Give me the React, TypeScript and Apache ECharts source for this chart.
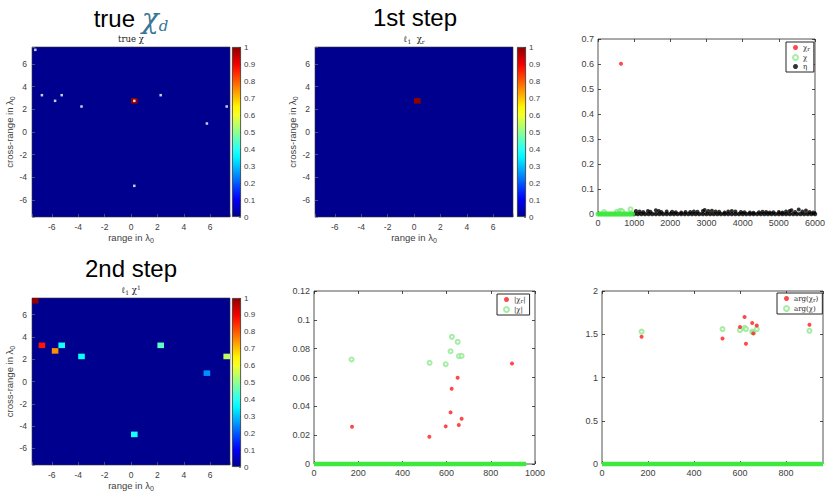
import React, { useEffect, useRef } from 'react';
import * as echarts from 'echarts';

// ---------------- data ----------------
// heatmap cells (centre x, centre y, value) on the 0.5-lambda grid
const trueCellX = [0.25];
const trueCellY = [2.75];
const trueCellVal = [1];
// true target positions (white markers)
const trueTargetX = [-7.25, -6.75, -5.75, -5.25, -3.75, 0.25, 2.25, 7.25, 5.75, 0.25];
const trueTargetY = [7.25, 3.25, 2.75, 3.25, 2.25, 2.75, 3.25, 2.25, 0.75, -4.75];

const step1CellX = [0.25];
const step1CellY = [2.75];
const step1CellVal = [1];

const step2CellX = [-7.25, -6.75, -5.75, -5.25, -3.75, 2.25, 7.25, 5.75, 0.25];
const step2CellY = [7.25, 3.25, 2.75, 3.25, 2.25, 3.25, 2.25, 0.75, -4.75];
const step2CellVal = [1.0, 0.87, 0.75, 0.38, 0.37, 0.45, 0.55, 0.25, 0.38];

// top-right panel
const p3RedX = [636];
const p3RedY = [0.601];
const p3GreenX = [170, 523, 596, 618, 624, 650, 668, 900];
const p3GreenY = [0.008, 0.009, 0.01, 0.012, 0.013, 0.012, 0.01, 0.019];
// markers lying on the zero line (sampled along the dense runs)
const p3GreenZeroX = [0, 40, 80, 120, 160, 200, 240, 280, 320, 360, 400, 440, 480, 520, 560, 600, 640, 680, 720, 760, 800, 840, 880, 920, 960];
const p3BlackZeroX = [1000, 1100, 1200, 1300, 1400, 1500, 1600, 1700, 1800, 1900, 2000, 2100, 2200, 2300, 2400, 2500, 2600, 2700, 2800, 2900, 3000, 3100, 3200, 3300, 3400, 3500, 3600, 3700, 3800, 3900, 4000, 4100, 4200, 4300, 4400, 4500, 4600, 4700, 4800, 4900, 5000, 5100, 5200, 5300, 5400, 5500, 5600, 5700, 5800, 5900, 6000];
const p3BlackX = [1050, 1150, 1250, 1380, 1450, 1600, 1680, 1750, 1900, 2050, 2150, 2300, 2420, 2550, 2650, 2750, 2900, 2950, 3050, 3150, 3250, 3350, 3500, 3600, 3700, 3800, 3950, 4050, 4200, 4300, 4450, 4550, 4650, 4750, 4850, 5000, 5100, 5200, 5300, 5350, 5450, 5550, 5650, 5750, 5850, 5950];
const p3BlackY = [0.012, 0.01, 0.008, 0.012, 0.009, 0.015, 0.012, 0.008, 0.01, 0.009, 0.007, 0.006, 0.008, 0.008, 0.01, 0.009, 0.012, 0.016, 0.012, 0.013, 0.01, 0.009, 0.006, 0.01, 0.012, 0.01, 0.008, 0.007, 0.006, 0.005, 0.007, 0.009, 0.008, 0.006, 0.007, 0.008, 0.006, 0.01, 0.012, 0.015, 0.008, 0.018, 0.01, 0.014, 0.008, 0.006];

// bottom-middle panel
const p5RedX = [172, 522, 596, 618, 623, 650, 655, 668, 896];
const p5RedY = [0.0258, 0.0189, 0.0261, 0.0358, 0.0522, 0.0598, 0.027, 0.0314, 0.0697];
const p5GreenX = [170, 523, 596, 618, 624, 650, 656, 668];
const p5GreenY = [0.0725, 0.0702, 0.0692, 0.0782, 0.0882, 0.0847, 0.0748, 0.075];
const p5GreenBand = [0, 960];

// bottom-right panel
const p6RedX = [172, 524, 600, 620, 626, 653, 658, 673, 902];
const p6RedY = [1.47, 1.45, 1.585, 1.7, 1.39, 1.63, 1.51, 1.6, 1.61];
const p6GreenX = [172, 524, 600, 620, 626, 653, 658, 673, 902];
const p6GreenY = [1.53, 1.56, 1.547, 1.574, 1.56, 1.53, 1.52, 1.56, 1.54];
const p6GreenBand = [0, 961];

// ---------------- styling helpers ----------------
const SANS = 'Liberation Sans, Arial, sans-serif';
const SERIF = 'DejaVu Serif, serif';
const LABEL = '#404040';
const RED = '#ff1a1a';
const GREEN = '#8fe88f';
const BAND_GREEN = '#3ee83e';

function jet(v: number) {
  const c = (t: number) => Math.max(0, Math.min(1, 1.5625 - Math.abs(4 * v - t)));
  const r = Math.round(c(3) * 255), g = Math.round(c(2) * 255), b = Math.round(c(1) * 255);
  return `rgb(${r},${g},${b})`;
}

const pairs = (xs: number[], ys: number[]) => xs.map((x, i) => [x, ys[i]]);
const zeros = (xs: number[]) => xs.map((x) => [x, 0]);
const triples = (xs: number[], ys: number[], vs: number[]) => xs.map((x, i) => [x, ys[i], vs[i]]);

const nameRich = {
  a: { fontSize: 9.5, color: LABEL, fontFamily: SANS, lineHeight: 13 },
  s: { fontSize: 7, color: LABEL, fontFamily: SANS, verticalAlign: 'bottom', lineHeight: 7 },
};

function buildOption() {
  const grid: any[] = [];
  const xAxis: any[] = [];
  const yAxis: any[] = [];
  const series: any[] = [];

  const colorStops: any[] = [];
  for (let i = 0; i <= 20; i++) {
    const off = i / 20;
    colorStops.push({ offset: off, color: jet(1 - off) });
  }

  function heatPanel(rect: any, cb: any, cells: number[][], dots?: number[][]) {
    const gi = grid.push({ ...rect, show: true, backgroundColor: jet(0), borderColor: '#3a3a3a', borderWidth: 0.6 }) - 1;
    const tick = { show: true, inside: true, length: 3, lineStyle: { color: '#7a7a7a', width: 0.6 } };
    const lab = {
      fontSize: 8.5, color: LABEL, fontFamily: SANS, margin: 5,
      formatter: (v: number) => (Math.abs(v % 2) === 0 ? String(v) : ''),
    };
    const xi = xAxis.push({
      type: 'value', gridIndex: gi, min: -7.5, max: 7.5, splitNumber: 7,
      axisLine: { show: false, onZero: false }, axisTick: tick, splitLine: { show: false }, axisLabel: lab,
      name: '{a|range in λ}{s|0}', nameLocation: 'middle', nameGap: 14,
      nameTextStyle: { rich: nameRich },
    }) - 1;
    const yi = yAxis.push({
      type: 'value', gridIndex: gi, min: -7.5, max: 7.5, splitNumber: 7,
      axisLine: { show: false, onZero: false }, axisTick: tick, splitLine: { show: false }, axisLabel: lab,
      name: '{a|cross-range in λ}{s|0}', nameLocation: 'middle', nameGap: 13,
      nameTextStyle: { rich: nameRich },
    }) - 1;
    series.push({
      type: 'custom', xAxisIndex: xi, yAxisIndex: yi, silent: true, data: cells,
      renderItem: (params: any, api: any) => {
        const x = api.value(0), y = api.value(1), v = api.value(2);
        const p0 = api.coord([x - 0.25, y + 0.25]);
        const p1 = api.coord([x + 0.25, y - 0.25]);
        return {
          type: 'rect',
          shape: { x: p0[0], y: p0[1], width: p1[0] - p0[0], height: p1[1] - p0[1] },
          style: { fill: jet(v) },
        };
      },
    });
    if (dots) {
      series.push({
        type: 'scatter', xAxisIndex: xi, yAxisIndex: yi, silent: true, data: dots,
        symbol: 'rect', symbolSize: 2.5, itemStyle: { color: '#ffffff' }, z: 5,
      });
    }
    // colour bar
    const cgi = grid.push({ ...cb, show: false }) - 1;
    const cxi = xAxis.push({ type: 'category', gridIndex: cgi, data: [''], show: false }) - 1;
    const cyi = yAxis.push({
      type: 'value', gridIndex: cgi, min: 0, max: 1, interval: 0.1, position: 'right',
      axisLine: { show: false, onZero: false }, splitLine: { show: false },
      axisTick: { show: true, inside: true, length: 2, lineStyle: { color: '#333', width: 0.6 } },
      axisLabel: { fontSize: 8, color: LABEL, fontFamily: SANS, margin: 3 },
    }) - 1;
    series.push({
      type: 'bar', xAxisIndex: cxi, yAxisIndex: cyi, data: [1], barWidth: '100%', silent: true,
      itemStyle: {
        color: new echarts.graphic.LinearGradient(0, 0, 0, 1, colorStops),
        borderColor: '#333', borderWidth: 0.8,
      },
    });
  }

  function scatterPanel(rect: any, xMax: number, xInt: number, yMax: number, yInt: number, hideMax: boolean) {
    const gi = grid.push({ ...rect, show: true, backgroundColor: '#fff', borderColor: '#262626', borderWidth: 0.8 }) - 1;
    const tick = { show: true, inside: true, length: 3, lineStyle: { color: '#262626', width: 0.8 } };
    const lab = {
      fontSize: 9, color: LABEL, fontFamily: SANS, margin: 4, showMaxLabel: !hideMax,
      formatter: (v: number) => String(v),
    };
    const xi = xAxis.push({
      type: 'value', gridIndex: gi, min: 0, max: xMax, interval: xInt, position: 'bottom',
      axisLine: { show: false, onZero: false }, axisTick: tick, splitLine: { show: false }, axisLabel: lab,
    }) - 1;
    xAxis.push({
      type: 'value', gridIndex: gi, min: 0, max: xMax, interval: xInt, position: 'top',
      axisLine: { show: false, onZero: false }, axisTick: tick, splitLine: { show: false }, axisLabel: { show: false },
    });
    const yi = yAxis.push({
      type: 'value', gridIndex: gi, min: 0, max: yMax, interval: yInt, position: 'left',
      axisLine: { show: false, onZero: false }, axisTick: tick, splitLine: { show: false },
      axisLabel: { fontSize: 9, color: LABEL, fontFamily: SANS, margin: 4 },
    }) - 1;
    yAxis.push({
      type: 'value', gridIndex: gi, min: 0, max: yMax, interval: yInt, position: 'right',
      axisLine: { show: false, onZero: false }, axisTick: tick, splitLine: { show: false }, axisLabel: { show: false },
    });
    return { xi, yi };
  }

  // dense runs of markers on the zero line, drawn as bands between x values
  const bands = (name: string, segs: number[][], colors: string[], ax: any, h: number) => ({
    name, type: 'custom', xAxisIndex: ax.xi, yAxisIndex: ax.yi, silent: true, clip: false, z: 3,
    data: segs.map((s, i) => [s[0], 0, s[1], i]),
    renderItem: (params: any, api: any) => {
      const a = api.coord([api.value(0), api.value(1)]);
      const b = api.coord([api.value(2), api.value(1)]);
      return {
        type: 'rect',
        shape: { x: a[0], y: a[1] - h / 2, width: b[0] - a[0], height: h },
        style: { fill: colors[api.value(3)] },
      };
    },
  });
  const dotsS = (name: string, data: number[][], color: string, ax: any, z = 4, size = 4) => ({
    name, type: 'scatter', xAxisIndex: ax.xi, yAxisIndex: ax.yi, silent: true, clip: false,
    data, symbol: 'circle', symbolSize: size, itemStyle: { color }, z,
  });
  const ringsS = (name: string, data: number[][], ax: any, z = 4) => ({
    name, type: 'scatter', xAxisIndex: ax.xi, yAxisIndex: ax.yi, silent: true, clip: false,
    data, symbol: 'emptyCircle', symbolSize: 4, itemStyle: { color: GREEN, borderWidth: 0.8 }, z,
  });

  // panel 1: true chi
  heatPanel({ left: 32, top: 47, width: 198, height: 170 }, { left: 232, top: 47, width: 9, height: 170 },
    triples(trueCellX, trueCellY, trueCellVal), pairs(trueTargetX, trueTargetY));
  // panel 2: 1st step
  heatPanel({ left: 315, top: 47, width: 198, height: 170 }, { left: 517, top: 47, width: 9, height: 170 },
    triples(step1CellX, step1CellY, step1CellVal));
  // panel 4: 2nd step
  heatPanel({ left: 32, top: 298, width: 198, height: 169 }, { left: 232, top: 298, width: 9, height: 169 },
    triples(step2CellX, step2CellY, step2CellVal));

  // panel 3
  const a3 = scatterPanel({ left: 598, top: 39, width: 220, height: 175 }, 6000, 1000, 0.7, 0.1, false);
  series.push(ringsS('χ', pairs(p3GreenX, p3GreenY), a3, 2));
  series.push(dotsS('χ0', zeros(p3GreenZeroX), BAND_GREEN, a3, 6, 5));
  series.push(dotsS('η', pairs(p3BlackX, p3BlackY), '#000', a3, 3));
  series.push(dotsS('η0', zeros(p3BlackZeroX), '#000', a3, 3, 4.5));
  series.push(dotsS('χr', pairs(p3RedX, p3RedY), RED, a3, 5));

  // panel 5
  const a5 = scatterPanel({ left: 314, top: 291, width: 221, height: 173 }, 1000, 200, 0.12, 0.02, false);
  series.push(bands('bands5', [p5GreenBand], [BAND_GREEN], a5, 4.5));
  series.push(dotsS('|χr|', pairs(p5RedX, p5RedY), RED, a5, 5));
  series.push(ringsS('|χ|', pairs(p5GreenX, p5GreenY), a5));

  // panel 6
  const a6 = scatterPanel({ left: 602, top: 291, width: 221, height: 173 }, 961, 200, 2, 0.5, true);
  series.push(bands('bands6', [p6GreenBand], [BAND_GREEN], a6, 4.5));
  series.push(dotsS('arg(χr)', pairs(p6RedX, p6RedY), RED, a6, 5));
  series.push(ringsS('arg(χ)', pairs(p6GreenX, p6GreenY), a6));

  const legendText: Record<string, string> = {
    'χr': '{m|χ}{s|r}',
    'χ': '{m|χ}',
    'η': '{m|η}',
    '|χr|': '{m||χ}{s|r}{m||}',
    '|χ|': '{m||χ|}',
    'arg(χr)': '{m|arg(χ}{s|r}{m|)}',
    'arg(χ)': '{m|arg(χ)}',
  };
  const legendCommon = {
    orient: 'vertical', selectedMode: false, itemWidth: 5, itemHeight: 5, itemGap: 2,
    padding: [2, 4, 2, 6], borderColor: '#262626', borderWidth: 1, backgroundColor: '#fff',
    formatter: (n: string) => legendText[n] || n,
    textStyle: {
      rich: {
        m: { fontSize: 7, fontFamily: SERIF, color: '#222', lineHeight: 9 },
        s: { fontSize: 5.5, fontFamily: SERIF, color: '#222', verticalAlign: 'bottom', lineHeight: 5 },
      },
    },
  };

  const smallRich = {
    m: { fontSize: 8.5, fontFamily: SERIF, fontWeight: 'normal', color: '#222', lineHeight: 11 },
    s: { fontSize: 6, fontFamily: SERIF, fontWeight: 'normal', color: '#222', verticalAlign: 'bottom', lineHeight: 5 },
    u: { fontSize: 6, fontFamily: SERIF, fontWeight: 'normal', color: '#222', verticalAlign: 'top', lineHeight: 5 },
  };
  const bigRich = {
    a: { fontSize: 24, fontFamily: SANS, fontWeight: 'normal', color: '#000', lineHeight: 30 },
    b: { fontSize: 28, fontFamily: SERIF, fontStyle: 'italic', fontWeight: 'normal', color: '#3a7596', lineHeight: 30 },
    c: { fontSize: 15, fontFamily: SERIF, fontStyle: 'italic', fontWeight: 'normal', color: '#3a7596', verticalAlign: 'bottom', lineHeight: 14 },
  };
  const titleStyle = { fontWeight: 'normal', rich: bigRich };
  const subStyle = { fontWeight: 'normal', rich: smallRich };

  return {
    animation: false,
    backgroundColor: '#fff',
    title: [
      { text: '{a|true }{b|χ}{c|d}', left: 131, top: 3, textAlign: 'center', padding: 0, textStyle: titleStyle },
      { text: '{a|1st step}', left: 415, top: 2, textAlign: 'center', padding: 0, textStyle: titleStyle },
      { text: '{a|2nd step}', left: 131, top: 253, textAlign: 'center', padding: 0, textStyle: titleStyle },
      { text: '{m|true χ}', left: 131, top: 33, textAlign: 'center', padding: 0, textStyle: subStyle },
      { text: '{m|ℓ}{s|1}{m|  χ}{s|r}', left: 414, top: 33, textAlign: 'center', padding: 0, textStyle: subStyle },
      { text: '{m|ℓ}{s|1}{m| χ}{u|1}', left: 131, top: 284, textAlign: 'center', padding: 0, textStyle: subStyle },
    ],
    legend: [
      { ...legendCommon, data: ['χr', 'χ', 'η'], left: 786, top: 42 },
      { ...legendCommon, data: ['|χr|', '|χ|'], left: 497, top: 294 },
      { ...legendCommon, data: ['arg(χr)', 'arg(χ)'], left: 777, top: 293 },
    ],
    grid,
    xAxis,
    yAxis,
    series,
  };
}

export default function App() {
  const ref = useRef<HTMLDivElement>(null);
  useEffect(() => {
    if (!ref.current) return;
    const chart = echarts.init(ref.current, null, { renderer: 'svg' });
    chart.setOption(buildOption() as any);
    return () => chart.dispose();
  }, []);
  return (
    <div
      ref={ref}
      style={{ position: 'absolute', left: 0, top: 0, width: 828, height: 493, background: '#fff' }}
    />
  );
}
